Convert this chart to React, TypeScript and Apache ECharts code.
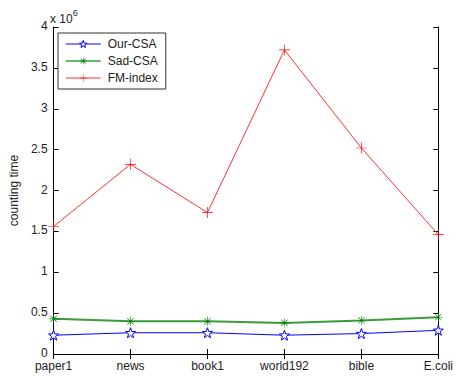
import React, { useEffect, useRef } from "react";
import * as echarts from "echarts";

const categories = ["paper1", "news", "book1", "world192", "bible", "E.coli"];
const ourCSA = [0.23, 0.26, 0.26, 0.23, 0.25, 0.29];
const sadCSA = [0.43, 0.4, 0.4, 0.38, 0.41, 0.45];
const fmIndex = [1.56, 2.32, 1.73, 3.72, 2.52, 1.46];
const yTicks = [0, 0.5, 1, 1.5, 2, 2.5, 3, 3.5, 4];

function starPath(): string {
  const pts: string[] = [];
  for (let i = 0; i < 10; i++) {
    const r = i % 2 === 0 ? 10 : 4;
    const a = (Math.PI / 5) * i - Math.PI / 2;
    pts.push(`${(10 + r * Math.cos(a)).toFixed(2)},${(10 + r * Math.sin(a)).toFixed(2)}`);
  }
  return "path://M" + pts.join("L") + "Z";
}
const plusPath = "path://M0,9.4H20V10.6H0Z M9.4,0H10.6V20H9.4Z";
const asteriskPath =
  "path://M0,9.3H20V10.7H0Z M9.3,0H10.7V20H9.3Z M2.5,3.5L3.5,2.5L17.5,16.5L16.5,17.5Z M16.5,2.5L17.5,3.5L3.5,17.5L2.5,16.5Z";

export default function App() {
  const ref = useRef<HTMLDivElement>(null);
  useEffect(() => {
    document.body.style.margin = "0";
    if (!ref.current) return;
    const chart = echarts.init(ref.current, null, { renderer: "svg" });
    const font = "Liberation Sans, Arial, sans-serif";
    chart.setOption({
      animation: false,
      backgroundColor: "#fff",
      textStyle: { fontFamily: font },
      grid: { left: 50, right: 15, top: 27, bottom: 23, containLabel: false },
      legend: {
        orient: "vertical",
        left: 58,
        top: 33,
        width: 106,
        padding: [5, 8, 5, 7],
        itemGap: 5,
        itemWidth: 35,
        itemHeight: 9,
        borderColor: "#333",
        borderWidth: 1,
        backgroundColor: "#fff",
        textStyle: { fontSize: 12, color: "#222", fontFamily: font, padding: [0, 0, 0, 2] },
        data: [
          {
            name: "Our-CSA",
            itemStyle: { color: "#fff", borderColor: "#0000ff", borderWidth: 1 },
            lineStyle: { color: "#0000ff", width: 1 },
          },
          { name: "Sad-CSA", itemStyle: { color: "#008000" }, lineStyle: { color: "#3b9b3b", width: 1.5 } },
          { name: "FM-index", itemStyle: { color: "#ff0000" }, lineStyle: { color: "#ff3030", width: 1 } },
        ],
      },
      graphic: [
        {
          type: "text",
          left: 50,
          top: 8,
          style: {
            text: "{a|x 10}{b|6}",
            rich: {
              a: { fontSize: 12, fontFamily: font, fill: "#222", verticalAlign: "bottom" },
              b: { fontSize: 9, fontFamily: font, fill: "#222", padding: [0, 0, 8, 0] },
            },
          },
        },
      ],
      xAxis: [
        {
          type: "category",
          data: categories,
          boundaryGap: false,
          axisLine: { lineStyle: { color: "#000" } },
          axisTick: { inside: true, length: 5, lineStyle: { color: "#000" } },
          axisLabel: { fontSize: 12, color: "#222", margin: 6, fontFamily: font, interval: 0 },
          splitLine: { show: false },
        },
        {
          type: "category",
          data: categories,
          boundaryGap: false,
          position: "top",
          axisLine: { show: true, lineStyle: { color: "#000" } },
          axisTick: { show: true, inside: true, length: 5, lineStyle: { color: "#000" } },
          axisLabel: { show: false },
          splitLine: { show: false },
        },
      ],
      yAxis: [
        {
          type: "value",
          min: 0,
          max: 4,
          interval: 0.5,
          name: "counting time",
          nameLocation: "middle",
          nameGap: 30,
          nameTextStyle: { fontSize: 12, color: "#222", fontFamily: font },
          axisLine: { show: true, lineStyle: { color: "#000" } },
          axisTick: { show: true, inside: true, length: 5, lineStyle: { color: "#000" } },
          axisLabel: {
            fontSize: 12,
            color: "#222",
            margin: 6,
            fontFamily: font,
            verticalAlign: "bottom",
            lineHeight: 14,
            padding: [0, 0, -6, 0],
            formatter: (v: number) => (yTicks.includes(v) ? String(v) : ""),
          },
          splitLine: { show: false },
        },
        {
          type: "value",
          min: 0,
          max: 4,
          interval: 0.5,
          position: "right",
          axisLine: { show: true, lineStyle: { color: "#000" } },
          axisTick: { show: true, inside: true, length: 5, lineStyle: { color: "#000" } },
          axisLabel: { show: false },
          splitLine: { show: false },
        },
      ],
      series: [
        {
          name: "Our-CSA",
          type: "line",
          data: ourCSA,
          symbol: starPath(),
          symbolSize: 10,
          itemStyle: { color: "#fff", borderColor: "#0000ff", borderWidth: 1 },
          lineStyle: { color: "#0000ff", width: 1 },
          color: "#0000ff",
        },
        {
          name: "Sad-CSA",
          type: "line",
          data: sadCSA,
          symbol: asteriskPath,
          symbolSize: 9,
          itemStyle: { color: "#008000" },
          lineStyle: { color: "#3b9b3b", width: 2 },
          color: "#008000",
        },
        {
          name: "FM-index",
          type: "line",
          data: fmIndex,
          symbol: plusPath,
          symbolSize: 11,
          itemStyle: { color: "#ff0000" },
          lineStyle: { color: "#ff3030", width: 1 },
          color: "#ff0000",
        },
      ],
    });
    return () => chart.dispose();
  }, []);
  return <div ref={ref} style={{ width: 456, height: 377 }} />;
}
